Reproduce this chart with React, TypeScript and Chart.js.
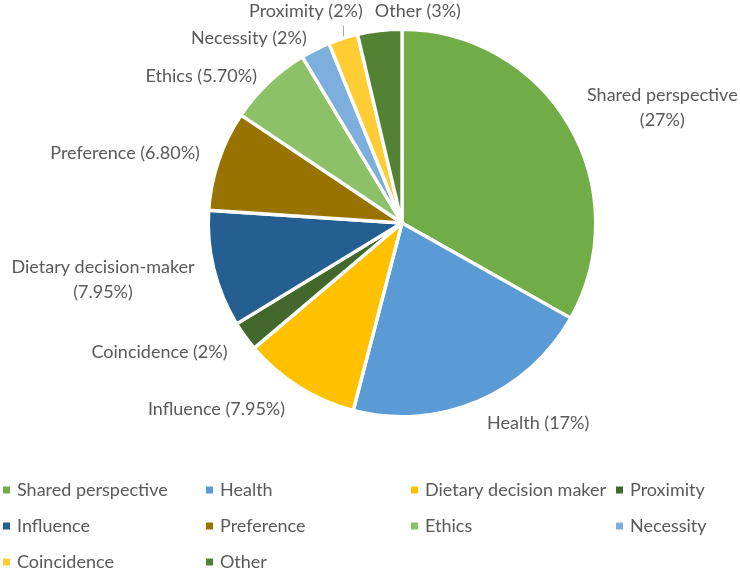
import React, { useEffect, useRef } from "react";
import { Chart, registerables } from "chart.js";

Chart.register(...registerables);

const categories = [
  "Shared perspective",
  "Health",
  "Dietary decision maker",
  "Proximity",
  "Influence",
  "Preference",
  "Ethics",
  "Necessity",
  "Coincidence",
  "Other",
];
const values = [27, 17, 7.95, 2, 7.95, 6.8, 5.7, 2, 2, 3];
const sliceLabels = [
  ["Shared perspective", "(27%)"],
  ["Health (17%)"],
  ["Influence (7.95%)"],
  ["Coincidence (2%)"],
  ["Dietary decision-maker", "(7.95%)"],
  ["Preference (6.80%)"],
  ["Ethics (5.70%)"],
  ["Necessity (2%)"],
  ["Proximity (2%)"],
  ["Other (3%)"],
];
const colors = [
  "#70AD47",
  "#5B9BD5",
  "#FFC000",
  "#43682B",
  "#255E91",
  "#997300",
  "#8CC168",
  "#7CAFDD",
  "#FFCD33",
  "#548235",
];

const FONT_FAMILY = "Lato, 'Open Sans', sans-serif";
const FONT_SIZE = 18;
const TEXT_COLOR = "#595959";
const LINE_HEIGHT = 25;
const LABEL_GAP = 24;
// small per-label adjustments (dx, dy) mimicking the spreadsheet's best-fit placement
const labelNudge = [
  [-3, -5],
  [0, 0],
  [-1, 2],
  [2, 2],
  [4, 5],
  [4, 0],
  [5, 11],
  [2, 10],
  [27, -4],
  [-2, 4],
];
const forceLeft = [9];
const leaderFor = [8];

const legendCols = [3, 206, 411, 616];
const legendRows = [490, 526, 562];

const labelPlugin = {
  id: "sliceLabels",
  afterDatasetsDraw(chart: any) {
    const ctx = chart.ctx;
    const meta = chart.getDatasetMeta(0);
    ctx.save();
    ctx.font = `${FONT_SIZE}px ${FONT_FAMILY}`;
    ctx.fillStyle = TEXT_COLOR;
    ctx.textBaseline = "middle";
    meta.data.forEach((arc: any, i: number) => {
      const a = (arc.startAngle + arc.endAngle) / 2;
      const r = arc.outerRadius;
      const px = arc.x + Math.cos(a) * (r + LABEL_GAP) + labelNudge[i][0];
      const py = arc.y + Math.sin(a) * (r + LABEL_GAP) + labelNudge[i][1];
      const lines = sliceLabels[i];
      const widths = lines.map((l: string) => ctx.measureText(l).width);
      const blockW = Math.max(...widths);
      const left = Math.cos(a) >= 0 || forceLeft.includes(i) ? px : px - blockW;
      const cx = left + blockW / 2;
      const top = py - ((lines.length - 1) * LINE_HEIGHT) / 2;
      ctx.textAlign = "center";
      lines.forEach((l: string, k: number) => {
        ctx.fillText(l, cx, top + k * LINE_HEIGHT);
      });
      if (leaderFor.includes(i)) {
        const ex = arc.x + Math.cos(a) * r;
        const ey = arc.y + Math.sin(a) * r;
        ctx.strokeStyle = "#A6A6A6";
        ctx.lineWidth = 1;
        ctx.beginPath();
        ctx.moveTo(Math.round(ex) + 0.5, ey - 2);
        ctx.lineTo(Math.round(ex) + 0.5, py + 14);
        ctx.stroke();
      }
    });
    ctx.restore();
  },
};

const legendPlugin = {
  id: "gridLegend",
  afterDraw(chart: any) {
    const ctx = chart.ctx;
    ctx.save();
    ctx.font = `${FONT_SIZE}px ${FONT_FAMILY}`;
    ctx.textBaseline = "middle";
    ctx.textAlign = "left";
    categories.forEach((name, i) => {
      const x = legendCols[i % 4];
      const y = legendRows[Math.floor(i / 4)];
      ctx.fillStyle = colors[i];
      ctx.fillRect(x, y - 3.5, 7, 7);
      ctx.fillStyle = TEXT_COLOR;
      ctx.fillText(name, x + 14, y);
    });
    ctx.restore();
  },
};

export default function App() {
  const ref = useRef<HTMLCanvasElement | null>(null);
  useEffect(() => {
    if (!ref.current) return;
    const chart = new Chart(ref.current, {
      type: "pie",
      data: {
        labels: categories,
        datasets: [
          {
            data: values,
            backgroundColor: colors,
            borderColor: "#FFFFFF",
            borderWidth: 3.4,
            hoverOffset: 0,
          },
        ],
      },
      options: {
        responsive: false,
        animation: false,
        radius: 193.7,
        layout: { padding: { left: 64, right: 0, top: 0, bottom: 125 } },
        plugins: {
          legend: { display: false },
          tooltip: { enabled: false },
          title: { display: false },
        },
        events: [],
      } as any,
      plugins: [labelPlugin, legendPlugin],
    });
    return () => chart.destroy();
  }, []);
  return (
    <div style={{ position: "absolute", left: 0, top: 0, width: 740, height: 571, background: "#fff" }}>
      <canvas ref={ref} width={740} height={571} style={{ display: "block" }} />
    </div>
  );
}
